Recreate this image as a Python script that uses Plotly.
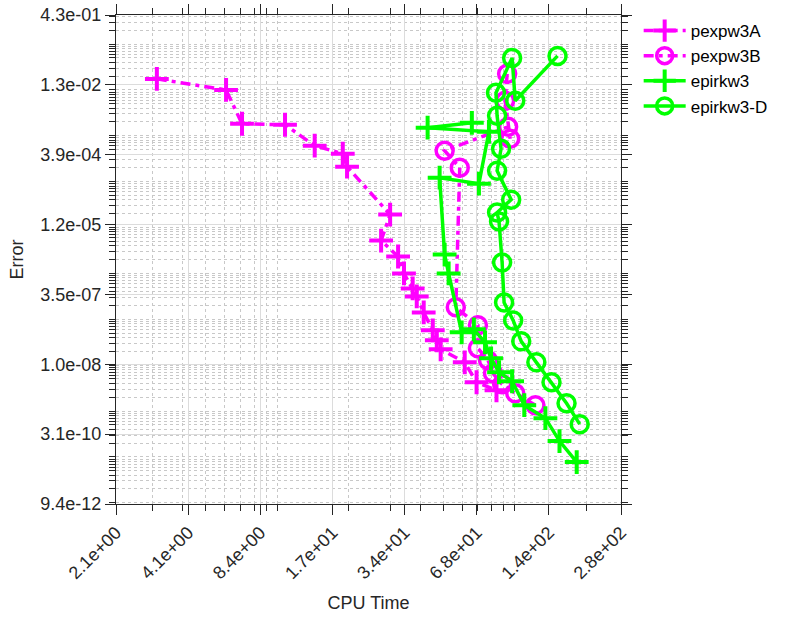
import numpy as np
import plotly.graph_objects as go

# ---- data (CPU time, error) ----
pexpw3A_t = [3.12, 6.10, 7.12, 10.8, 14.4, 18.9, 19.7, 29.9, 27.4, 32.3, 34.2, 37.2, 38.7,
             41.4, 45.2, 47.0, 48.8, 61.6, 69.1, 83.8]
pexpw3A_e = [1.74e-2, 1.00e-2, 1.83e-3, 1.74e-3, 6.08e-4, 4.07e-4, 2.12e-4, 1.92e-5, 5.21e-6,
             2.34e-6, 9.98e-7, 4.71e-7, 3.15e-7, 1.41e-7, 5.74e-8, 3.48e-8, 2.21e-8, 1.15e-8,
             4.24e-9, 2.84e-9]

pexpw3B_t = [92.9, 91.1, 95.7, 93.8, 50.7, 58.7, 56.5, 70.0, 70.0, 77.2, 81.0, 88.5, 100.5, 122.2]
pexpw3B_e = [2.24e-2, 5.79e-3, 8.63e-4, 1.57e-3, 4.73e-4, 2.02e-4, 1.82e-7, 7.38e-8, 2.33e-8,
             1.28e-8, 6.65e-9, 3.84e-9, 2.44e-9, 1.34e-9]

epirkw3_t = [66.0, 43.0, 77.9, 70.7, 48.3, 50.7, 52.7, 59.8, 67.3, 75.0, 79.5, 85.9, 97.5,
             109.7, 134.6, 154.3, 182.3]
epirkw3_e = [1.92e-3, 1.50e-3, 1.22e-3, 9.06e-5, 1.22e-4, 2.58e-6, 9.98e-7, 5.19e-8, 6.03e-8,
             3.15e-8, 1.41e-8, 7.00e-9, 4.46e-9, 1.34e-9, 6.98e-10, 2.21e-10, 7.71e-11]

epirkw3D_t = [151.4, 100.5, 97.5, 83.4, 84.3, 87.6, 84.3, 96.6, 84.3, 85.9, 88.5, 90.2, 98.5,
              106.5, 123.3, 142.8, 165.2, 187.7]
epirkw3D_e = [5.52e-2, 5.79e-3, 4.99e-2, 8.65e-3, 2.73e-3, 5.22e-4, 1.74e-4, 4.06e-5, 2.12e-5,
              1.35e-5, 1.73e-6, 2.33e-7, 9.46e-8, 3.30e-8, 1.15e-8, 4.24e-9, 1.48e-9, 5.18e-10]

x_ticktext = ["2.1e+00", "4.1e+00", "8.4e+00", "1.7e+01", "3.4e+01", "6.8e+01", "1.4e+02", "2.8e+02"]
y_ticktext = ["9.4e-12", "3.1e-10", "1.0e-08", "3.5e-07", "1.2e-05", "3.9e-04", "1.3e-02", "4.3e-01"]

x_min, x_max = 2.1, 280.0
y_min, y_max = 9.4e-12, 0.43

x_tickvals = list(np.geomspace(x_min, x_max, len(x_ticktext)))
y_tickvals = list(np.geomspace(y_min, y_max, len(y_ticktext)))


def minor_vals(lo, hi):
    vals = []
    for k in range(int(np.floor(np.log10(lo))), int(np.ceil(np.log10(hi))) + 1):
        for m in range(1, 10):
            v = m * 10.0 ** k
            if lo < v < hi:
                vals.append(v)
    return vals


MAG = "#FF00FF"
GRN = "#00FF00"
FONT = "Liberation Sans, Arial, Helvetica, sans-serif"
AX = "#262626"
DASHDOT = "10px,5px,4px,5px"
EPS = 1e-6

fig = go.Figure()


def add(name, x, y, color, symbol, dash):
    if symbol == "plus":
        marker = dict(symbol="cross-thin", size=17, color=color, line=dict(color=color, width=4))
    else:
        marker = dict(symbol="circle-open", size=17, color=color, line=dict(color=color, width=3.5))
    fig.add_trace(go.Scatter(x=x, y=y, name=name, mode="lines+markers",
                             line=dict(color=color, width=3.5, dash=dash), marker=marker))


add("pexpw3A", pexpw3A_t, pexpw3A_e, MAG, "plus", DASHDOT)
add("pexpw3B", pexpw3B_t, pexpw3B_e, MAG, "circle", DASHDOT)
add("epirkw3", epirkw3_t, epirkw3_e, GRN, "plus", "solid")
add("epirkw3-D", epirkw3D_t, epirkw3D_e, GRN, "circle", "solid")

common = dict(type="log", showline=True, linecolor=AX, linewidth=1, mirror="allticks",
              ticks="outside", ticklen=10, tickcolor=AX, tickwidth=1,
              showgrid=True, gridcolor="#dcdcdc", gridwidth=1, zeroline=False,
              ticklabeloverflow="allow",
              tickfont=dict(family=FONT, size=18, color=AX), tickmode="array")

fig.update_xaxes(**common, range=[np.log10(x_min) - EPS, np.log10(x_max) + EPS],
                 tickvals=x_tickvals, ticktext=x_ticktext, tickangle=-45,
                 minor=dict(tickmode="array", tickvals=minor_vals(x_min, x_max), ticks="outside",
                            ticklen=6, tickcolor=AX, showgrid=True, gridcolor="#c8c8c8",
                            griddash="dot", gridwidth=1),
                 title=dict(text="CPU Time", font=dict(family=FONT, size=18, color=AX), standoff=14))
fig.update_yaxes(**common, range=[np.log10(y_min) - EPS, np.log10(y_max) + EPS],
                 tickvals=y_tickvals, ticktext=y_ticktext,
                 minor=dict(tickmode="array", tickvals=minor_vals(y_min, y_max), ticks="outside",
                            ticklen=6, tickcolor=AX, showgrid=True, gridcolor="#c8c8c8",
                            griddash="dot", gridwidth=1))

fig.add_annotation(text="Error", textangle=-90, xref="paper", yref="paper",
                   x=-0.198, y=0.5, xanchor="center", yanchor="middle", showarrow=False,
                   font=dict(family=FONT, size=18, color=AX))

fig.update_layout(
    width=800, height=621,
    margin=dict(l=116, r=179, t=15, b=117, autoexpand=False),
    paper_bgcolor="white", plot_bgcolor="white",
    font=dict(family=FONT, size=18, color=AX),
    legend=dict(x=1.035, y=1.004, xanchor="left", yanchor="top", itemwidth=42,
                font=dict(family=FONT, size=17, color="black"),
                bgcolor="rgba(255,255,255,0)", borderwidth=0),
)

# remove the browser's default 8px page margin so the figure fills the window exactly
fig.write_html("out.html", config={"displayModeBar": False},
               post_script="document.body.style.margin='0';")
